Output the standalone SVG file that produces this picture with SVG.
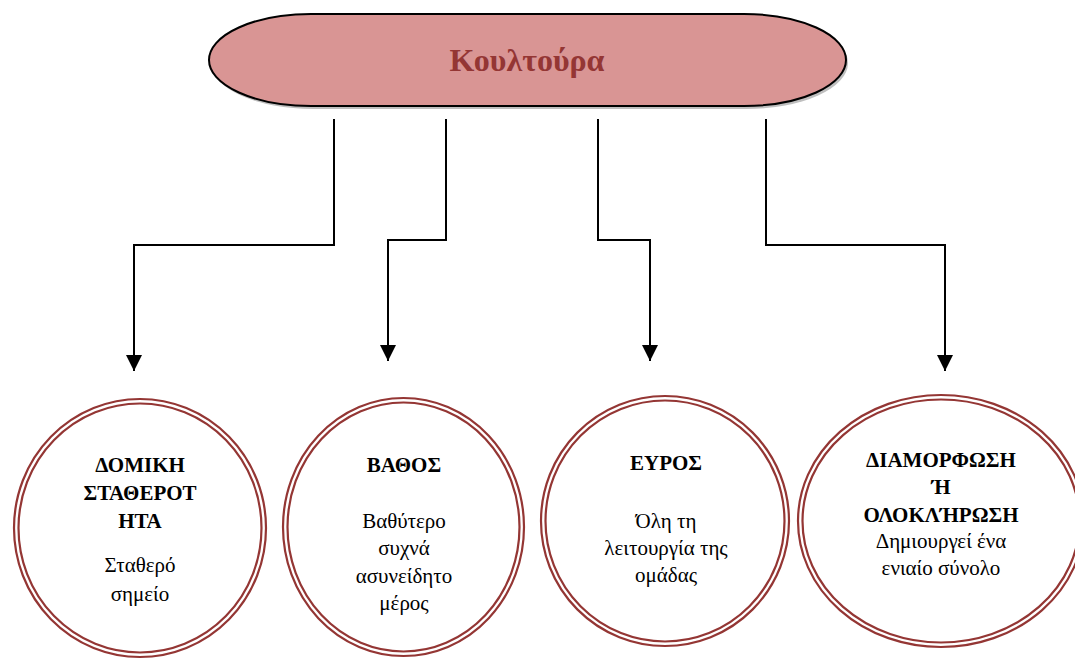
<svg xmlns="http://www.w3.org/2000/svg" width="1075" height="660" viewBox="0 0 1075 660">
  <style>
    .ring { fill: none; stroke: #943634; stroke-width: 2.2; }
    .link { fill: none; stroke: #000; stroke-width: 2; marker-end: url(#arrow); }
    text { font-family: "Liberation Serif", "Times New Roman", serif; text-anchor: middle; }
    .head { font-weight: bold; font-size: 21px; fill: #000; }
    .body { font-size: 21px; fill: #000; }
    .title { font-weight: bold; font-size: 32px; fill: #943634; }
  </style>
  <defs>
    <marker id="arrow" viewBox="0 0 16 16" refX="16" refY="8" markerWidth="16" markerHeight="16" markerUnits="userSpaceOnUse" orient="auto">
      <path d="M0,0 L16,8 L0,16 z" fill="#000"/>
    </marker>
  </defs>
  <rect width="1075" height="660" fill="#fff"/>

  <!-- top terminator shape -->
  <g id="node-culture">
    <rect x="211" y="17" width="637" height="92" rx="102" ry="46" fill="#808080" opacity="0.5"/>
    <rect x="209" y="14" width="637" height="92" rx="102" ry="46" fill="#D99594" stroke="#000" stroke-width="2"/>
    <text class="title" x="527" y="71">Κουλτούρα</text>
  </g>

  <!-- connectors -->
  <g id="connectors">
    <path class="link" d="M334,119 V245 H134 V371"/>
    <path class="link" d="M446,119 V240 H388 V361"/>
    <path class="link" d="M598,119 V240 H650 V361"/>
    <path class="link" d="M766,119 V245 H945 V371"/>
  </g>

  <g id="node-structure">
    <ellipse class="ring" cx="140" cy="528" rx="126" ry="129"/>
    <ellipse class="ring" cx="140" cy="528" rx="121.5" ry="124.5"/>
    <text class="head" x="140" y="472">ΔΟΜΙΚΗ</text>
    <text class="head" x="140" y="500">ΣΤΑΘΕΡΟΤ</text>
    <text class="head" x="140" y="528">ΗΤΑ</text>
    <text class="body" x="140" y="572">Σταθερό</text>
    <text class="body" x="140" y="601">σημείο</text>
  </g>

  <g id="node-depth">
    <ellipse class="ring" cx="403.5" cy="527" rx="120.5" ry="129"/>
    <ellipse class="ring" cx="403.5" cy="527" rx="116" ry="124.5"/>
    <text class="head" x="404" y="472">ΒΑΘΟΣ</text>
    <text class="body" x="404" y="528">Βαθύτερο</text>
    <text class="body" x="404" y="555">συχνά</text>
    <text class="body" x="404" y="583">ασυνείδητο</text>
    <text class="body" x="404" y="610">μέρος</text>
  </g>

  <g id="node-breadth">
    <ellipse class="ring" cx="665" cy="521" rx="124" ry="125"/>
    <ellipse class="ring" cx="665" cy="521" rx="119.5" ry="120.5"/>
    <text class="head" x="666" y="470">ΕΥΡΟΣ</text>
    <text class="body" x="666" y="528">Όλη τη</text>
    <text class="body" x="666" y="555">λειτουργία της</text>
    <text class="body" x="666" y="582">ομάδας</text>
  </g>

  <g id="node-integration">
    <ellipse class="ring" cx="941" cy="521" rx="143" ry="126"/>
    <ellipse class="ring" cx="941" cy="521" rx="138.5" ry="121.5"/>
    <text class="head" x="941" y="467">ΔΙΑΜΟΡΦΩΣΗ</text>
    <text class="head" x="941" y="494">Ή</text>
    <text class="head" x="941" y="522">ΟΛΟΚΛΉΡΩΣΗ</text>
    <text class="body" x="941" y="548">Δημιουργεί ένα</text>
    <text class="body" x="941" y="575">ενιαίο σύνολο</text>
  </g>
</svg>
